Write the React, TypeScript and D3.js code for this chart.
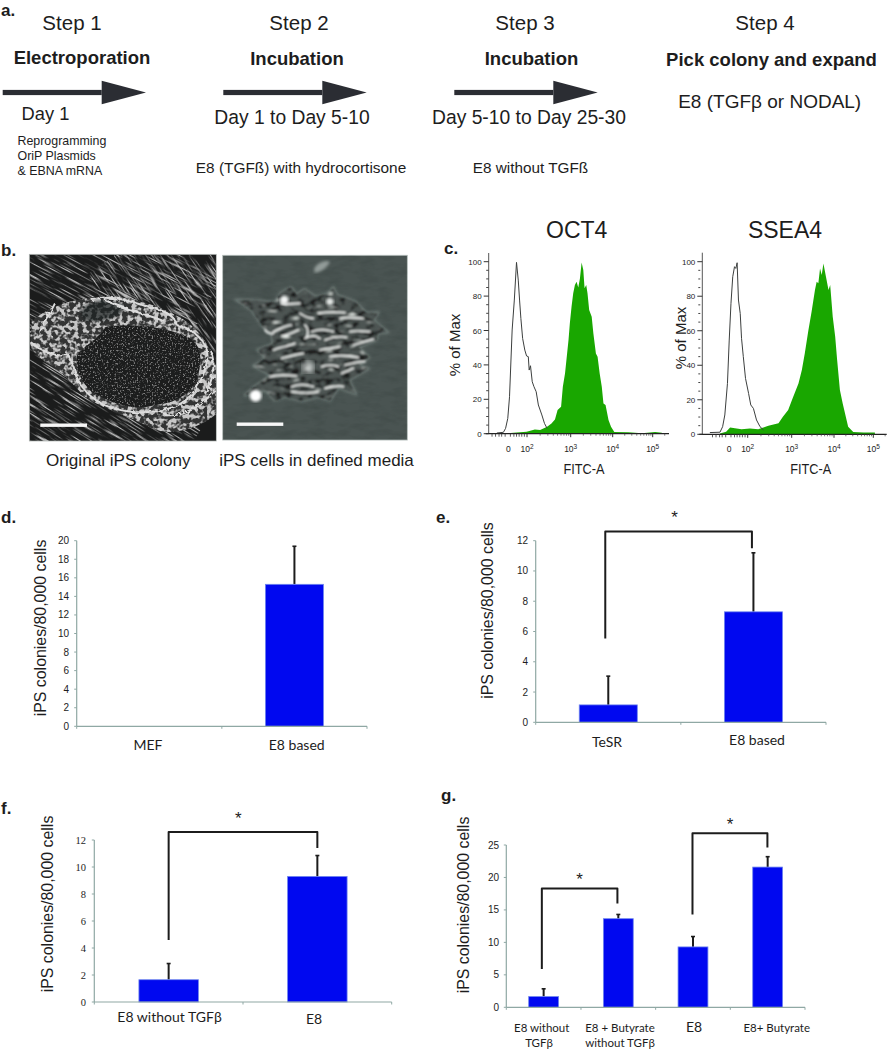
import React from "react";
import * as d3 from "d3";

// ---------- data: panels d-g ----------
const dCategories = ["MEF", "E8 based"];
const dValues = [0, 15.3];
const dErrorTops = [0, 19.4];
const dTicks = [0, 2, 4, 6, 8, 10, 12, 14, 16, 18, 20];

const eCategories = ["TeSR", "E8 based"];
const eValues = [1.15, 7.3];
const eErrorTops = [3.05, 11.2];
const eTicks = [0, 2, 4, 6, 8, 10, 12];

const fCategories = ["E8 without TGFβ", "E8"];
const fValues = [1.65, 9.3];
const fErrorTops = [2.85, 10.85];
const fTicks = [0, 2, 4, 6, 8, 10, 12];

const gCategories = ["E8 without TGFβ", "E8 + Butyrate without TGFβ", "E8", "E8+ Butyrate"];
const gValues = [1.65, 13.65, 9.3, 21.6];
const gErrorTops = [2.85, 14.3, 10.9, 23.2];
const gTicks = [0, 5, 10, 15, 20, 25];

// bracket: from/to category index, top level and the level of each foot
const eBrackets = [{ a: 0, b: 1, top: 12.6, footA: 5.53, footB: 11.5, nudge: -3 }];
const fBrackets = [{ a: 0, b: 1, top: 12.6, footA: 4.6, footB: 11.4, nudge: 0 }];
const gBrackets = [
  { a: 0, b: 1, top: 18.3, footA: 5.9, footB: 16.0, nudge: -1.8 },
  { a: 2, b: 3, top: 26.8, footA: 14.3, footB: 24.6, nudge: -0.5 },
];

// ---------- data: panel c, histograms (x = log10 FITC, y = % of max) ----------
const flowMajor = [0, 20, 40, 60, 80, 100];
const flowDecades = [2, 3, 4, 5];

const oct4OpenX = [1.31, 1.46, 1.51, 1.56, 1.6, 1.66, 1.71, 1.76, 1.8, 1.83, 1.86, 1.9, 1.95, 1.99, 2.03, 2.05, 2.08, 2.12, 2.16, 2.21, 2.26, 2.34, 2.4, 2.46];
const oct4OpenY = [0.4, 0.8, 3.1, 8.9, 21.5, 60.3, 77.7, 99.6, 89.3, 77.7, 67, 55.4, 48.6, 45.2, 44.8, 37, 39.5, 30.2, 27.3, 24.4, 16.7, 10.9, 6, 3.1];
const oct4FillX = [1.5, 1.69, 1.99, 2.18, 2.3, 2.46, 2.56, 2.64, 2.7, 2.78, 2.82, 2.87, 2.91, 2.95, 2.98, 3.02, 3.06, 3.1, 3.14, 3.18, 3.22, 3.26, 3.3, 3.33, 3.37, 3.4, 3.44, 3.5, 3.54, 3.6, 3.64, 3.69, 3.74, 3.78, 3.83, 3.9, 3.96, 4.04, 4.39, 4.73, 5.06, 5.23];
const oct4FillY = [0, 0.6, 1.2, 2.5, 2.1, 4.1, 6, 8.3, 13.8, 15.7, 27.3, 35, 44.8, 54.5, 64.1, 73.8, 81.6, 86.4, 88.4, 85, 90.3, 99.6, 95.2, 84.5, 86.4, 81.6, 71.9, 68, 58.3, 46.7, 44.8, 35, 27.3, 17.6, 16.7, 7.9, 4.1, 1, 0.8, 0.2, 1, 0.6];

const ssea4OpenX = [1.14, 1.37, 1.43, 1.48, 1.54, 1.58, 1.62, 1.66, 1.7, 1.73, 1.76, 1.79, 1.83, 1.86, 1.9, 1.95, 2.02, 2.07, 2.13, 2.2, 2.28, 2.36];
const ssea4OpenY = [1, 1.2, 4.4, 11.2, 29.5, 54.6, 75.9, 91.3, 97.1, 96.1, 99.4, 77.8, 70, 55.6, 45, 32.4, 23.7, 17, 15, 8.3, 4.4, 2.5];
const ssea4FillX = [1.37, 1.51, 1.6, 1.71, 1.86, 2.05, 2.24, 2.47, 2.7, 2.8, 2.92, 3.02, 3.16, 3.24, 3.31, 3.39, 3.47, 3.55, 3.59, 3.63, 3.67, 3.71, 3.75, 3.81, 3.87, 3.91, 3.97, 4.03, 4.08, 4.15, 4.22, 4.29, 4.36, 4.49, 4.75, 5.04];
const ssea4FillY = [0.4, 1.5, 3.9, 3.5, 2.9, 3.3, 2.9, 5, 6.4, 10.2, 14.1, 20.8, 29.5, 37.3, 46.9, 59.5, 71, 83.6, 88.4, 87.5, 96.1, 92.3, 99, 91.3, 83.6, 86.5, 68.1, 56.6, 43, 25.7, 18, 11.2, 4.4, 1.4, 1, 1];

// ---------- helpers ----------
const SANS = "'Liberation Sans', Arial, sans-serif";
const CAL = "Lato, 'Liberation Sans', sans-serif";
const SERIF = "'Liberation Serif', serif";
const INK = "#1d1d1d";
const AXIS = "#8fa8a4";

function T(p: any) {
  const { x, y, size, children, bold, anchor = "middle", font = SANS, rotate, fill = INK, fit } = p;
  return (
    <text
      x={x}
      y={y}
      fontSize={size}
      fontFamily={font}
      fontWeight={bold ? 700 : 400}
      textAnchor={anchor}
      fill={fill}
      textLength={fit}
      lengthAdjust={fit ? "spacingAndGlyphs" : undefined}
      transform={rotate ? `rotate(${rotate} ${x} ${y})` : undefined}
    >
      {children}
    </text>
  );
}

function Arrow({ x0, head, tip, y }: any) {
  return (
    <g fill="#2b2d33">
      <rect x={x0} y={y - 2.6} width={head - x0} height={5.2} />
      <path d={d3.line()([[head, y - 11.8], [tip, y], [head, y + 11.8]]) + "Z"} />
    </g>
  );
}

function BarPanel(p: any) {
  const { cats, vals, errs, ticks, x0, x1, yTop, yBase, brackets = [], tickFont = SANS, tickSize = 10, tickX, starDx = 0, starLift = 9 } = p;
  const max = d3.max(ticks) as number;
  const y = d3.scaleLinear().domain([0, max]).range([yBase, yTop]);
  const x = d3.scaleBand<number>().domain(d3.range(cats.length)).range([x0, x1]).paddingInner(0.6).paddingOuter(0.3);
  const step = x.step();
  const centre = (i: number) => (x(i) as number) + x.bandwidth() / 2;
  return (
    <g>
      {vals.map((v: number, i: number) =>
        v > 0 ? (
          <g key={i}>
            <line x1={centre(i)} x2={centre(i)} y1={y(v)} y2={y(errs[i])} stroke="#1c1c1c" strokeWidth={2} />
            <line x1={centre(i) - 2} x2={centre(i) + 2} y1={y(errs[i])} y2={y(errs[i])} stroke="#1c1c1c" strokeWidth={1.6} />
            <rect x={x(i)} y={y(v)} width={x.bandwidth()} height={y(0) - y(v)} fill="#0008f0" stroke="#6f86ee" strokeWidth={0.8} />
          </g>
        ) : null
      )}
      <line x1={x0} x2={x1} y1={yBase} y2={yBase} stroke={AXIS} strokeWidth={1.2} />
      <line x1={x0} x2={x0} y1={yTop} y2={yBase} stroke={AXIS} strokeWidth={1.2} />
      {d3.range(cats.length + 1).map((i) => (
        <line key={i} x1={x0 + i * step} x2={x0 + i * step} y1={yBase} y2={yBase + 2.5} stroke={AXIS} />
      ))}
      {ticks.map((t: number) => (
        <g key={t}>
          <line x1={x0 - 2.5} x2={x0} y1={y(t)} y2={y(t)} stroke={AXIS} />
          <T x={tickX} y={y(t) + 3.5} size={tickSize} anchor="end" font={tickFont}>{t}</T>
        </g>
      ))}
      {brackets.map((b: any, i: number) => {
        const xa = centre(b.a) + b.nudge;
        const xb = centre(b.b) + b.nudge / 2;
        return (
          <g key={i}>
            <path
              d={d3.line()([[xa, y(b.footA)], [xa, y(b.top)], [xb, y(b.top)], [xb, y(b.footB)]]) as string}
              fill="none"
              stroke="#1c1c1c"
              strokeWidth={2}
              strokeLinejoin="round"
            />
            <T x={(xa + xb) / 2 + starDx} y={y(b.top) - starLift} size={17} font={SANS}>*</T>
          </g>
        );
      })}
    </g>
  );
}

function FlowPanel(p: any) {
  const { title, titleX, labelX, openX, openY, fillX, fillY, axisX, axisEnd, tickPx, zeroPx, yTopLine, y100, y0, yLabelX, yLabelY, minorDark } = p;
  const x = d3.scaleLinear().domain(flowDecades).range(tickPx);
  const y = d3.scaleLinear().domain([0, 100]).range([y0, y100]);
  const fillPts: [number, number][] = fillX.map((v: number, i: number) => [v, fillY[i]]);
  const openPts: [number, number][] = openX.map((v: number, i: number) => [v, openY[i]]);
  const area = d3.area<[number, number]>().x((d) => x(d[0])).y0(y(0)).y1((d) => y(d[1]));
  const line = d3.line<[number, number]>().x((d) => x(d[0])).y((d) => y(d[1]));
  const minors: number[] = [];
  flowDecades.forEach((dec) => {
    d3.range(2, 10).forEach((k) => {
      const v = dec + Math.log10(k);
      if (x(v) < axisEnd) minors.push(v);
    });
  });
  const lowTicks = [1.2, 1.28, 1.36, 1.42, 1.5, 1.62, 1.7, 1.76, 1.82, 1.88, 1.94];
  return (
    <g>
      <T x={titleX} y={237.5} size={23}>{title}</T>
      <path d={area(fillPts) as string} fill="#19a700" />
      <path d={line(openPts) as string} fill="none" stroke="#3c3f3e" strokeWidth={1} />
      <line x1={axisX} x2={axisX} y1={yTopLine} y2={y0} stroke="#555" strokeWidth={1} />
      <line x1={axisX - 3} x2={axisEnd} y1={y0} y2={y0} stroke="#222" strokeWidth={1.2} />
      {flowMajor.map((t) => (
        <g key={t}>
          <line x1={axisX - 5} x2={axisX} y1={y(t)} y2={y(t)} stroke="#333" />
          <T x={axisX - 7} y={y(t) + 3} size={8} anchor="end">{t}</T>
        </g>
      ))}
      {d3.range(5, 100, 5).filter((t) => t % 20 !== 0).map((t) => (
        <line key={t} x1={axisX - (minorDark ? 4 : 2.5)} x2={axisX - (minorDark ? 2 : 0)} y1={y(t)} y2={y(t)} stroke="#444" />
      ))}
      {minors.map((v) => (
        <line key={v} x1={x(v)} x2={x(v)} y1={y0} y2={y0 + 2} stroke="#444" strokeWidth={0.7} />
      ))}
      {lowTicks.map((v) => (
        <line key={v} x1={x(v)} x2={x(v)} y1={y0} y2={y0 + 3} stroke="#333" strokeWidth={0.8} />
      ))}
      {flowDecades.map((dec) => (
        <g key={dec}>
          <line x1={x(dec)} x2={x(dec)} y1={y0} y2={y0 + 3.5} stroke="#333" />
          <text x={x(dec)} y={y0 + 18} fontSize={8.5} fontFamily={SANS} textAnchor="middle" fill={INK}>
            10<tspan dy={-3} fontSize={6.5}>{dec}</tspan>
          </text>
        </g>
      ))}
      <T x={zeroPx} y={y0 + 18} size={8.5}>0</T>
      <T x={labelX} y={474} size={15} fit={41}>FITC-A</T>
      <T x={yLabelX} y={yLabelY} size={15} rotate={-90}>% of Max</T>
    </g>
  );
}

// ---------- panel b, photographs imitated with SVG noise (z units: 3 per pixel) ----------
const colonyOuter = "M20,215 C80,160 150,150 210,142 C290,130 390,160 470,205 C540,250 576,320 576,400 L576,490 C520,540 430,560 380,535 C320,500 240,480 180,440 C140,400 110,360 60,335 C40,320 15,300 15,280Z";
const colonyCore = "M240,232 C300,218 420,228 490,262 C530,285 535,330 515,390 C500,430 450,460 390,465 C330,485 260,460 200,425 C165,395 150,350 155,320 C170,290 220,270 240,232Z";
const colonyRing = "M455,225 C510,240 560,280 545,340 C530,400 505,445 450,470 C390,490 320,495 250,470 C200,450 170,420 150,370 M20,280 C60,310 100,320 130,315 C150,350 150,370 160,400 M90,160 C70,200 50,220 45,250 M200,150 C260,130 330,160 370,170 C420,180 450,200 455,225 M420,495 C470,500 520,480 570,420 M555,300 C575,340 565,390 540,430 M240,150 C300,180 360,190 420,215";
const darkUpper = "M165,190 C180,150 240,140 300,165 C310,190 250,215 200,215 C180,215 165,205 165,190Z";
const cellOutline = "M635,150 L700,152 L750,158 L768,128 L798,112 L815,135 L838,118 L870,140 L908,132 L925,112 L935,135 L990,155 L1025,190 L1060,188 L1045,210 L1088,247 L1058,250 L1055,270 L1000,292 L1032,322 L1000,345 L1030,356 L972,390 L992,432 L940,412 L915,452 L880,440 L830,452 L780,440 L750,452 L722,420 L658,436 L692,408 L738,375 L685,348 L722,325 L698,300 L745,282 L740,250 L715,232 L680,180Z";
const cellStreaks = [
  "M745,245 C770,235 785,225 800,225", "M770,258 C790,255 810,245 820,240", "M880,190 C910,185 930,185 960,188",
  "M945,205 C970,200 990,205 1015,205", "M860,245 C885,235 905,240 925,245", "M975,245 C1000,240 1020,245 1035,245",
  "M745,300 C770,290 790,290 810,280", "M840,265 C860,255 870,255 885,265", "M900,270 C925,260 945,258 965,262",
  "M985,285 C1005,280 1025,272 1045,268", "M885,300 C905,295 925,295 945,290", "M770,325 C795,318 815,312 835,310",
  "M915,320 C940,315 965,315 1000,322", "M960,345 C980,340 1000,335 1020,335", "M735,380 C760,372 790,375 815,378",
  "M890,350 C905,345 925,345 940,350", "M800,410 C825,400 845,405 865,410", "M950,370 C965,365 975,360 985,355",
  "M825,190 C840,200 850,205 865,205", "M840,225 C850,235 850,250 845,262", "M800,425 C830,430 860,430 880,425",
  "M770,160 C790,165 810,160 825,160", "M720,240 C725,250 735,252 745,250", "M900,415 C920,410 940,405 955,410",
];

function Photos() {
  return (
    <g>
      <defs>
        <clipPath id="ph1"><rect x={29.3} y={254.3} width={187} height={186.7} /></clipPath>
        <clipPath id="ph2"><rect x={222.7} y={255.3} width={184.6} height={184.7} /></clipPath>
        <clipPath id="outerC"><path d={colonyOuter} /></clipPath>
        <clipPath id="coreC"><path d={colonyCore} /></clipPath>
        <clipPath id="cellC"><path d={cellOutline} /></clipPath>
        <filter id="fibre" x="0" y="0" width="1" height="1" colorInterpolationFilters="sRGB">
          <feTurbulence type="fractalNoise" baseFrequency="0.012 0.22" numOctaves={2} seed={7} />
          <feColorMatrix type="matrix" values="0 0 0 0 0.75  0 0 0 0 0.75  0 0 0 0 0.75  5 0 0 0 -2.7" />
          <feGaussianBlur stdDeviation={1} />
        </filter>
        <filter id="speck" x="0" y="0" width="1" height="1" colorInterpolationFilters="sRGB">
          <feTurbulence type="fractalNoise" baseFrequency="0.075" numOctaves={2} seed={11} />
          <feColorMatrix type="matrix" values="0 0 0 0 0.78  0 0 0 0 0.78  0 0 0 0 0.78  5 0 0 0 -2.15" />
          <feGaussianBlur stdDeviation={1.6} />
        </filter>
        <filter id="speckDark" x="0" y="0" width="1" height="1" colorInterpolationFilters="sRGB">
          <feTurbulence type="fractalNoise" baseFrequency="0.2" numOctaves={2} seed={4} />
          <feColorMatrix type="matrix" values="0 0 0 0 0.5  0 0 0 0 0.5  0 0 0 0 0.5  5 0 0 0 -2.7" />
          <feGaussianBlur stdDeviation={1.2} />
        </filter>
        <filter id="rough" x="-5%" y="-5%" width="110%" height="110%">
          <feTurbulence type="fractalNoise" baseFrequency="0.07" numOctaves={2} seed={2} result="n" />
          <feDisplacementMap in="SourceGraphic" in2="n" scale={16} />
          <feGaussianBlur stdDeviation={1.2} />
        </filter>
        <filter id="cellTex" x="0" y="0" width="1" height="1" colorInterpolationFilters="sRGB">
          <feTurbulence type="fractalNoise" baseFrequency="0.04 0.07" numOctaves={2} seed={9} />
          <feColorMatrix type="matrix" values="0 0 0 0 0.1  0 0 0 0 0.11  0 0 0 0 0.11  6 0 0 0 -3.0" />
        </filter>
        <filter id="cellTex2" x="0" y="0" width="1" height="1" colorInterpolationFilters="sRGB">
          <feTurbulence type="fractalNoise" baseFrequency="0.03 0.09" numOctaves={1} seed={21} />
          <feColorMatrix type="matrix" values="0 0 0 0 0.9  0 0 0 0 0.92  0 0 0 0 0.9  6 0 0 0 -3.8" />
        </filter>
        <filter id="grain" x="0" y="0" width="1" height="1" colorInterpolationFilters="sRGB">
          <feTurbulence type="fractalNoise" baseFrequency="0.02 0.05" numOctaves={3} seed={5} />
          <feColorMatrix type="matrix" values="0 0 0 0 0.22  0 0 0 0 0.26  0 0 0 0 0.25  2 0 0 0 -0.85" />
        </filter>
        <filter id="blur1"><feGaussianBlur stdDeviation={2.4} /></filter>
        <filter id="blur3"><feGaussianBlur stdDeviation={4} /></filter>
        <filter id="blur8"><feGaussianBlur stdDeviation={9} /></filter>
      </defs>

      <g clipPath="url(#ph1)">
        <rect x={29.3} y={254.3} width={187} height={186.7} fill="#1b1c1c" />
        <g transform="translate(25,250) scale(0.3333)">
          <g transform="rotate(28 150 120)"><rect x={-180} y={-120} width={700} height={430} filter="url(#fibre)" /></g>
          <g transform="rotate(55 480 150)"><rect x={250} y={-160} width={520} height={520} filter="url(#fibre)" /></g>
          <g transform="rotate(32 150 480)"><rect x={-120} y={330} width={620} height={300} filter="url(#fibre)" /></g>
          <g clipPath="url(#outerC)">
            <rect x={0} y={120} width={590} height={460} fill="#333434" />
            <rect x={0} y={120} width={590} height={460} filter="url(#speck)" />
            <path d={darkUpper} fill="#1f2020" opacity={0.7} filter="url(#blur3)" />
          </g>
          <g clipPath="url(#coreC)">
            <rect x={130} y={200} width={420} height={300} fill="#1c1d1d" />
            <rect x={130} y={200} width={420} height={300} filter="url(#speckDark)" />
          </g>
          <path d={colonyRing} fill="none" stroke="#dcdcdc" strokeWidth={6} filter="url(#rough)" />
        </g>
        <rect x={40.3} y={423.5} width={46.7} height={3.4} fill="#f7f7f7" />
      </g>
      <rect x={29.3} y={254.3} width={187} height={186.7} fill="none" stroke="#aab0ad" strokeWidth={0.7} />

      <g clipPath="url(#ph2)">
        <rect x={222.7} y={255.3} width={184.6} height={184.7} fill="#4a5452" />
        <g transform="translate(25,250) scale(0.3333)">
          <rect x={590} y={10} width={560} height={560} filter="url(#grain)" opacity={0.4} />
          <path d="M868,55 C880,35 905,30 915,35 C905,55 885,68 868,68Z" fill="#a5aeab" filter="url(#blur3)" opacity={0.8} />
          <path d={cellOutline} fill="none" stroke="#7d8a86" strokeWidth={6} filter="url(#blur3)" />
          <g filter="url(#blur1)">
            <path d={cellOutline} fill="#4d5553" />
            <g clipPath="url(#cellC)">
              <rect x={630} y={100} width={470} height={360} filter="url(#cellTex)" />
              <rect x={630} y={100} width={470} height={360} filter="url(#cellTex2)" />
            </g>
            {cellStreaks.map((d, i) => (
              <path key={i} d={d} fill="none" stroke="#f2f4f2" strokeWidth={5} strokeLinecap="round" />
            ))}
          </g>
          <circle cx={692} cy={437} r={18} fill="#fff" filter="url(#blur3)" />
          <circle cx={778} cy={150} r={13} fill="#f4f6f5" filter="url(#blur3)" />
          <circle cx={915} cy={155} r={11} fill="#e4e8e6" filter="url(#blur3)" />
          <circle cx={850} cy={352} r={16} fill="#dfe3e1" filter="url(#blur8)" />
        </g>
        <rect x={236.7} y={422.5} width={46.6} height={3.4} fill="#f7f7f7" />
      </g>
      <rect x={222.7} y={255.3} width={184.6} height={184.7} fill="none" stroke="#a9b2af" strokeWidth={0.8} />
    </g>
  );
}

export default function App() {
  const yLabel = "iPS colonies/80,000 cells";
  return (
    <svg width={891} height={1050} viewBox="0 0 891 1050" style={{ position: "absolute", left: 0, top: 0, background: "#fff" }}>
      {/* panel letters */}
      <T x={1} y={16} size={17} bold anchor="start">a.</T>
      <T x={1} y={256} size={17} bold anchor="start">b.</T>
      <T x={444} y={254} size={17} bold anchor="start">c.</T>
      <T x={1} y={523} size={17} bold anchor="start">d.</T>
      <T x={436} y={523} size={17} bold anchor="start">e.</T>
      <T x={1} y={814} size={17} bold anchor="start">f.</T>
      <T x={441} y={801} size={17} bold anchor="start">g.</T>

      {/* panel a */}
      <T x={72} y={30} size={20.5}>Step 1</T>
      <T x={299} y={30} size={20.5}>Step 2</T>
      <T x={525} y={30} size={20.5}>Step 3</T>
      <T x={765} y={30} size={20.5}>Step 4</T>
      <T x={82} y={64} size={18.5} bold>Electroporation</T>
      <T x={297} y={65} size={18.5} bold>Incubation</T>
      <T x={531.5} y={65} size={18.5} bold>Incubation</T>
      <T x={771.5} y={66} size={18.5} bold>Pick colony and expand</T>
      <Arrow x0={2.7} head={101.7} tip={146} y={92.5} />
      <Arrow x0={223.3} head={322.3} tip={366.7} y={92.5} />
      <Arrow x0={454.3} head={553.3} tip={597.7} y={92.5} />
      <T x={45.5} y={120} size={18.3}>Day 1</T>
      <T x={292} y={124} size={19.3}>Day 1 to Day 5-10</T>
      <T x={529} y={124} size={19.3}>Day 5-10 to Day 25-30</T>
      <T x={769.7} y={108} size={19}>E8 (TGFβ or NODAL)</T>
      <T x={17.5} y={145} size={12.4} anchor="start">Reprogramming</T>
      <T x={17.5} y={160} size={12.4} anchor="start">OriP Plasmids</T>
      <T x={17.5} y={175} size={12.4} anchor="start">&amp; EBNA mRNA</T>
      <T x={301} y={173} size={15.4}>E8 (TGFß) with hydrocortisone</T>
      <T x={530.5} y={173} size={15.3}>E8 without TGFß</T>

      {/* panel b */}
      <Photos />
      <T x={118.3} y={465.5} size={17.1}>Original iPS colony</T>
      <T x={316.5} y={465.5} size={17}>iPS cells in defined media</T>

      {/* panel c */}
      <FlowPanel
        title="OCT4" titleX={576.7} labelX={584}
        openX={oct4OpenX} openY={oct4OpenY} fillX={oct4FillX} fillY={oct4FillY}
        axisX={488.7} axisEnd={669} tickPx={[527, 570.7, 612.7, 652.7]} zeroPx={508.3}
        yTopLine={253} y100={261.7} y0={433.7} yLabelX={460} yLabelY={345}
      />
      <FlowPanel
        title="SSEA4" titleX={785} labelX={810.7}
        openX={ssea4OpenX} openY={ssea4OpenY} fillX={ssea4FillX} fillY={ssea4FillY}
        axisX={702.3} axisEnd={886.7} tickPx={[747.7, 791.7, 834, 873.3]} zeroPx={729}
        yTopLine={252.7} y100={261.7} y0={434.3} yLabelX={685.7} yLabelY={338} minorDark
      />

      {/* panel d */}
      <BarPanel cats={dCategories} vals={dValues} errs={dErrorTops} ticks={dTicks} x0={76.7} x1={367} yTop={540.7} yBase={726.3} tickX={69} />
      <T x={46} y={628} size={15.9} rotate={-90}>{yLabel}</T>
      <T x={148} y={750} size={14} font={CAL}>{dCategories[0]}</T>
      <T x={296.7} y={750} size={14} font={CAL}>{dCategories[1]}</T>

      {/* panel e */}
      <BarPanel cats={eCategories} vals={eValues} errs={eErrorTops} ticks={eTicks} x0={535.7} x1={826} yTop={540.7} yBase={722.3} brackets={eBrackets} tickX={528} starDx={-4} />
      <T x={493.3} y={610.5} size={15.9} rotate={-90}>{yLabel}</T>
      <T x={607} y={747} size={14} font={CAL}>{eCategories[0]}</T>
      <T x={757} y={745} size={14} font={CAL}>{eCategories[1]}</T>

      {/* panel f */}
      <BarPanel cats={fCategories} vals={fValues} errs={fErrorTops} ticks={fTicks} x0={94.3} x1={391.7} yTop={840} yBase={1002} brackets={fBrackets} tickX={86} tickFont={SERIF} tickSize={10.5} starDx={-4.7} starLift={8} />
      <T x={53.3} y={904} size={15.9} rotate={-90}>{yLabel}</T>
      <T x={169.5} y={1022} size={14} font={CAL}>{fCategories[0]}</T>
      <T x={314} y={1024} size={14} font={CAL}>{fCategories[1]}</T>

      {/* panel g */}
      <BarPanel cats={gCategories} vals={gValues} errs={gErrorTops} ticks={gTicks} x0={506.3} x1={805} yTop={845} yBase={1007.3} brackets={gBrackets} tickX={499} tickSize={10} starLift={3} />
      <T x={469} y={905} size={15.9} rotate={-90}>{yLabel}</T>
      <T x={541.7} y={1031.7} size={11.5} font={CAL}>E8 without</T>
      <T x={539} y={1046.7} size={11.5} font={CAL}>TGFβ</T>
      <T x={620} y={1031.7} size={11.5} font={CAL}>E8 + Butyrate</T>
      <T x={620} y={1046.7} size={11.5} font={CAL}>without TGFβ</T>
      <T x={694} y={1032} size={14} font={CAL}>{gCategories[2]}</T>
      <T x={776.7} y={1032} size={11.5} font={CAL}>{gCategories[3]}</T>
    </svg>
  );
}
